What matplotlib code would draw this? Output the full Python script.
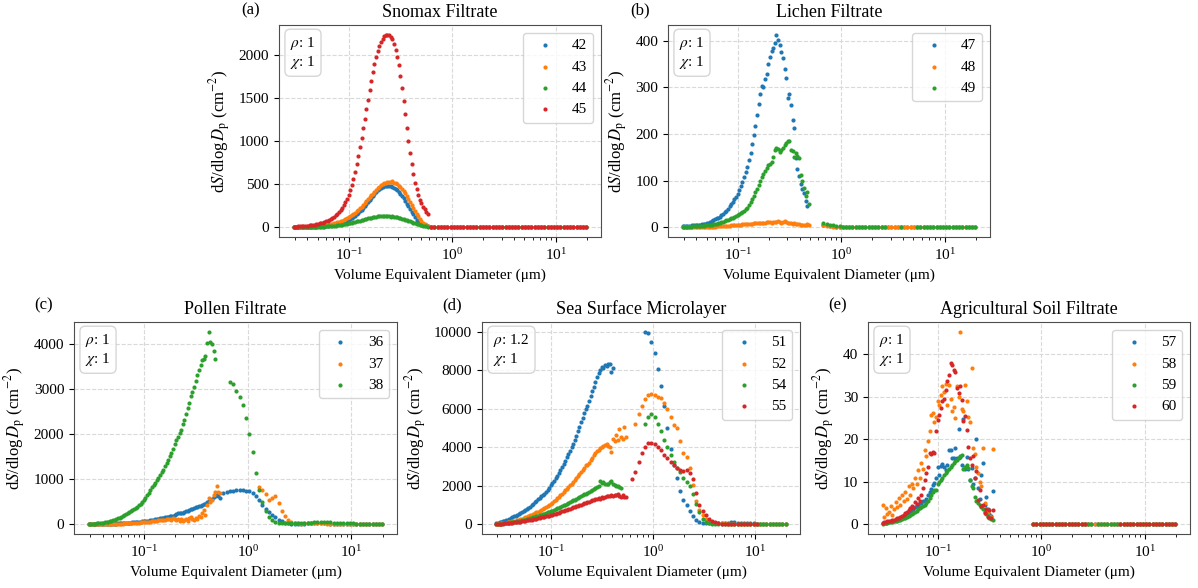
import numpy as np
import matplotlib
matplotlib.use("Agg")
import matplotlib.pyplot as plt

nan = np.nan

# === Instrument channel diameters (um) ===
smps_d = [0.02940, 0.03048, 0.03159, 0.03275, 0.03395, 0.03519, 0.03648, 0.03782, 0.03920, 0.04064,
          0.04213, 0.04368, 0.04528, 0.04693, 0.04865, 0.05043, 0.05229, 0.05419, 0.05618, 0.05824,
          0.06037, 0.06258, 0.06487, 0.06725, 0.06972, 0.07227, 0.07492, 0.07766, 0.08051, 0.08346,
          0.08651, 0.08968, 0.09297, 0.09638, 0.09991, 0.1036, 0.1074, 0.1113, 0.1154, 0.1196,
          0.1240, 0.1285, 0.1332, 0.1381, 0.1432, 0.1484, 0.1539, 0.1595, 0.1653, 0.1714,
          0.1777, 0.1842, 0.1909, 0.1979, 0.2052, 0.2127, 0.2205, 0.2285, 0.2369, 0.2456,
          0.2546, 0.2639, 0.2736, 0.2836, 0.2940, 0.3048, 0.3159, 0.3275, 0.3395, 0.3519,
          0.3648, 0.3782, 0.3920, 0.4064, 0.4213, 0.4368, 0.4528, 0.4693, 0.4865, 0.5043,
          0.5229, 0.5419, 0.5618, 0.5824, 0.6037]
aps_d = [0.542, 0.583, 0.626, 0.673, 0.723, 0.777, 0.835, 0.898, 0.965, 1.037,
         1.114, 1.197, 1.286, 1.382, 1.486, 1.596, 1.715, 1.843, 1.981, 2.129,
         2.288, 2.458, 2.642, 2.839, 3.051, 3.278, 3.523, 3.786, 4.068, 4.371,
         4.698, 5.048, 5.425, 5.829, 6.264, 6.732, 7.234, 7.774, 8.354, 8.977,
         9.647, 10.37, 11.14, 11.97, 12.86, 13.82, 14.86, 15.96, 17.15, 18.43,
         19.81]

# === (a) Snomax Filtrate ===
snomax_42 = [2, 2, 3, 3, 3, 4, 4, 5, 5, 6,
             6, 7, 8, 9, 10, 11, 12, 14, 15, 17,
             19, 21, 23, 26, 29, 32, 36, 40, 45, 50,
             56, 62, 69, 77, 86, 96, 108, 120, 134, 150,
             166, 184, 203, 224, 246, 268, 292, 316, 340, 364,
             388, 410, 428, 445, 458, 468, 476, 480, 482, 481,
             478, 472, 462, 450, 434, 414, 392, 366, 338, 308,
             276, 244, 212, 180, 150, 122, 85, 68, 55, 44,
             35, 28, 22, 18]
snomax_43 = [3, 3, 4, 4, 5, 5, 6, 6, 7, 8,
             9, 10, 11, 12, 14, 15, 17, 19, 21, 24,
             27, 30, 33, 37, 41, 46, 51, 57, 63, 70,
             78, 86, 95, 105, 116, 128, 141, 155, 170, 186,
             203, 221, 240, 260, 281, 303, 325, 348, 370, 392,
             414, 435, 455, 472, 488, 500, 510, 520, 528, 530,
             525, 535, 520, 510, 500, 485, 470, 450, 420, 395,
             360, 330, 290, 260, 225, 190, 160, 130, 100, 75,
             55, 38, 25, 15]
snomax_44 = [1, 1, 1, 2, 2, 2, 2, 3, 3, 3,
             4, 4, 5, 5, 6, 7, 7, 8, 9, 10,
             11, 12, 14, 15, 17, 19, 21, 23, 26, 28,
             31, 34, 37, 41, 45, 49, 53, 58, 63, 68,
             73, 78, 84, 89, 95, 100, 105, 110, 114, 118,
             122, 125, 127, 129, 131, 132, 130, 128, 133, 126,
             124, 128, 120, 122, 118, 112, 108, 100, 95, 88,
             82, 75, 68, 60, 53, 46, 40, 34, 28, 23,
             19, 15, 12, 10]
snomax_45 = [8, 9, 10, 11, 12, 14, 15, 17, 19, 21,
             23, 26, 29, 32, 36, 40, 45, 50, 56, 62,
             70, 78, 88, 98, 110, 124, 140, 158, 178, 200,
             225, 255, 290, 330, 375, 430, 490, 560, 640, 730,
             830, 930, 1040, 1150, 1260, 1370, 1480, 1590, 1700, 1800,
             1890, 1970, 2040, 2100, 2150, 2190, 2215, 2230, 2225, 2235,
             2210, 2180, 2130, 2060, 1980, 1880, 1760, 1620, 1470, 1310,
             1150, 1000, 860, 730, 620, 520, 440, 370, 320, 280,
             240, 210, 180, 150]
snomax_42_aps = [3.2, 2.6, 2.1, 1.7, 1.4, 1.1, 0.9, 0.8, 0.6, 0.5,
                 0.5, 0.4, 0.4, 0.3, 0.3, 0.3, 0.2, 0.2, 0.2, 0.2,
                 0.1, 0.1, 0.1, 0.1, 0.1, 0.1, 0.1, 0.1, 0.1, 0.1,
                 0, 0, 0, 0, 0, 0, 0, 0, 0, 0,
                 0, 0, 0, 0, 0, 0, 0, 0, 0]
snomax_43_aps = [3.5, 2.8, 2.2, 1.8, 1.4, 1.2, 1.0, 0.8, 0.7, 0.6,
                 0.5, 0.4, 0.4, 0.3, 0.3, 0.3, 0.2, 0.2, 0.2, 0.2,
                 0.1, 0.1, 0.1, 0.1, 0.1, 0.1, 0.1, 0.1, 0.1, 0.1,
                 0, 0, 0, 0, 0, 0, 0, 0, 0, 0,
                 0, 0, 0, 0, 0, 0, 0, 0, 0]
snomax_44_aps = [1.0, 0.8, 0.7, 0.5, 0.4, 0.4, 0.3, 0.3, 0.2, 0.2,
                 0.2, 0.1, 0.1, 0.1, 0.1, 0.1, 0.1, 0.1, 0.1, 0.1,
                 0, 0, 0, 0, 0, 0, 0, 0, 0, 0,
                 0, 0, 0, 0, 0, 0, 0, 0, 0, 0,
                 0, 0, 0, 0, 0, 0, 0, 0, 0]
snomax_45_aps = [6.0, 4.8, 3.8, 3.0, 2.4, 1.9, 1.5, 1.2, 1.0, 0.8,
                 0.7, 0.6, 0.5, 0.4, 0.4, 0.3, 0.3, 0.2, 0.2, 0.2,
                 0.2, 0.1, 0.1, 0.1, 0.1, 0.1, 0.1, 0.1, 0.1, 0.1,
                 0.1, 0.1, 0, 0, 0, 0, 0, 0, 0, 0,
                 0, 0, 0, 0, 0, 0, 0, 0, 0]

# === (b) Lichen Filtrate ===
lichen_47 = [2, 2, 2, 3, 3, 3, 4, 4, 5, 5,
             6, 6, 7, 8, 8, 9, 10, 11, 13, 15,
             17, 19, 21, 23, 26, 29, 32, 36, 40, 45,
             50, 55, 60, 66, 72, 80, 88, 97, 107, 118,
             130, 145, 160, 178, 197, 217, 240, 264, 285, 303,
             300, 318, 328, 350, 365, 378, 385, 395, 413, 402,
             390, 375, 362, 340, 321, 278, 285, 263, 230, 213,
             149, 125, 110, 92, 82, 74, 56, 45]
lichen_48 = [0.2, 0.2, 0.3, 0.3, 0.3, 0.4, 0.4, 0.5, 0.5, 0.6,
             0.7, 0.8, 0.8, 0.9, 1.0, 1.1, 1.2, 1.4, 1.5, 1.6,
             1.8, 2.0, 2.2, 2.4, 2.6, 2.9, 3.1, 3.4, 3.6, 3.9,
             4.2, 4.5, 4.8, 5.1, 5.4, 5.7, 6.0, 6.3, 6.7, 7.0,
             7.3, 7.6, 7.9, 8.2, 8.5, 8.8, 9.1, 9.0, 9.6, 9.8,
             10.2, 9.8, 10.5, 10.8, 11.0, 10.4, 11.5, 12.5, 11.0, 13.0,
             11.5, 10.2, 12.5, 14.0, 11.0, 9.0, 8.5, 10.0, 8.0, 9.5,
             8.0, 7.5, 7.0, 6.0, 5.0, 4.5, 4.0, 6.5, 5.0]
lichen_49 = [1, 1, 1, 1, 1, 1, 2, 2, 2, 2,
             2, 3, 3, 3, 4, 4, 5, 5, 6, 7,
             7, 8, 9, 10, 11, 12, 13, 15, 16, 18,
             19, 21, 22, 24, 26, 28, 30, 33, 36, 39,
             42, 48, 54, 61, 68, 75, 83, 91, 99, 107,
             115, 120, 128, 133, 135, 140, 150, 165, 170, 168,
             162, 166, 170, 176, 180, 184, 186, 165, 163, 150,
             160, 152, 148, 112, 100, 85, 68, 76, 50]
lichen_47_aps = [6.0, 4.0, 3.0, 2.0, 1.5, 1.0, 0.8, 0.6, 0.5, 0.4,
                 0.3, 0.3, 0.2, 0.2, 0.2, 0.1, 0.1, 0.1, 0.1, 0.1,
                 0, 0, 0, 0, 0, 0, 0, 0, 0, 0,
                 0, 0, 0, 0, 0, 0, 0, 0, 0, 0,
                 0, 0, 0, 0, 0, 0, 0, 0]
lichen_48_aps = [4.0, 3.0, 2.0, 1.5, 1.0, 0.7, 0.5, 0.4, 0.3, 0.2,
                 0.2, 0.2, 0.1, 0.1, 0.1, 0.1, 0.1, 0.1, 0.1, 0.1,
                 0.1, 0.1, 0.1, 0.1, 0.1, 0.1, 0.1, 0.1, 0.1, 0.1,
                 0, 0, 0, 0, 0, 0, 0, 0, 0, 0,
                 0, 0, 0, 0, 0, 0, 0, 0]
lichen_49_aps = [10.0, 8.0, 6.0, 4.5, 3.2, 2.3, 1.6, 1.2, 0.9, 0.7,
                 0.5, 0.4, 0.3, 0.3, 0.2, 0.2, 0.1, 0.1, 0.1, 0.1,
                 nan, nan, nan, nan, 0.1, nan, nan, nan, nan, 0.1,
                 0.1, 0.1, 0.1, 0, 0, 0, 0, 0, 0, 0,
                 0, 0, 0, 0, 0, 0, 0, 0]

# === (c) Pollen Filtrate ===
pollen_36 = [5, 5, 6, 6, 7, 7, 8, 9, 9, 10,
             11, 12, 13, 14, 15, 16, 18, 19, 21, 23,
             25, 27, 29, 31, 34, 37, 40, 43, 46, 50,
             54, 58, 62, 66, 70, 75, 80, 86, 92, 98,
             105, 112, 120, 128, 136, 145, 150, 160, 165, 170,
             178, 185, 195, 210, 230, 250, 245, 260, 255, 270,
             290, 305, 320, 335, 345, 360, 380, 390, 400, 410,
             430, 450, 460, 490, 520, 540, 560, 600, 630, 650,
             640, 580]
pollen_37 = [3, 3, 4, 4, 4, 5, 5, 6, 6, 7,
             7, 8, 9, 9, 10, 11, 12, 13, 14, 15,
             17, 18, 20, 21, 23, 25, 27, 29, 31, 34,
             36, 39, 42, 45, 48, 52, 55, 59, 63, 68,
             72, 77, 82, 88, 93, 99, 105, 95, 110, 118,
             125, 100, 140, 120, 95, 110, 85, 130, 70, 100,
             110, 80, 150, 170, 120, 96, 140, 110, 190, 170,
             245, 320, 210, 420, 580, 500, 540, 650, 720, 860,
             725, 690]
pollen_38 = [10, 12, 14, 16, 19, 22, 25, 29, 33, 38,
             44, 52, 60, 70, 80, 92, 105, 118, 132, 150,
             168, 185, 205, 225, 248, 270, 290, 315, 345, 370,
             390, 425, 460, 500, 540, 590, 650, 705, 760, 820,
             870, 930, 985, 1040, 1100, 1160, 1210, 1290, 1360, 1430,
             1510, 1580, 1680, 1780, 1875, 1950, 2030, 2100, 2220, 2320,
             2450, 2580, 2700, 2840, 2950, 3060, 3190, 3320, 3430, 3540,
             3660, 3680, 3730, 4020, 4280, 4040, 4000, 3850, 3680]
pollen_36_aps = [700, 720, 740, 750, 755, 755, 755, 750, 740, 700,
                 620, 540, 440, 350, 280, 210, 160, 100, 70, 40,
                 22, 15, 12, 14, 16, 18, 20, 22, 24, 25,
                 24, 22, 20, 18, 16, 14, 12, 10, 8, 7,
                 6, 5, 4, 3, 2, 2, 1, 1, 1, 0.5]
pollen_37_aps = [840, 760, 670, 540, 580, 620, 470, 300, 180, 100,
                 55, 30, 20, 18, 20, 22, 24, 25, 24, 22,
                 20, 18, 16, 14, 12, 10, 8, 7, 6, 5,
                 4, 3, 2, 2, 1, 1, 0.5, 0.5, 0.5]
pollen_38_aps = [3170, 3110, 2960, 2830, 2650, 2360, 2010, 1600, 1150, 760,
                 500, 300, 160, 90, 50, 30, 22, 20, 22, 25,
                 28, 30, 33, 35, 38, 40, 42, 43, 44, 44,
                 43, 42, 40, 38, 35, 32, 28, 24, 20, 16,
                 12, 9, 7, 5, 3, 2, 1, 1]

# === (d) Sea Surface Microlayer ===
ssml_51 = [60, 80, 100, 125, 150, 180, 210, 245, 290, 335,
           380, 420, 460, 505, 550, 600, 650, 705, 760, 805,
           850, 920, 990, 1060, 1140, 1220, 1300, 1390, 1470, 1540,
           1600, 1700, 1800, 1910, 2020, 2140, 2260, 2390, 2530, 2680,
           2830, 2980, 3140, 3300, 3470, 3640, 3820, 4000, 4190, 4390,
           4600, 4820, 5050, 5290, 5540, 5800, 6000, 6150, 6400, 6650,
           6900, 7150, 7400, 7650, 7850, 8000, 8150, 8100, 8250, 8200,
           8300, 8330, 7900, 8100]
ssml_52 = [20, 30, 40, 50, 60, 75, 90, 105, 120, 140,
           160, 180, 200, 220, 245, 270, 300, 330, 360, 395,
           430, 465, 500, 540, 580, 620, 665, 710, 760, 810,
           860, 910, 960, 1010, 1070, 1130, 1200, 1270, 1350, 1430,
           1510, 1590, 1670, 1760, 1850, 1940, 2030, 2120, 2210, 2310,
           2410, 2510, 2610, 2720, 2830, 2950, 3070, 3060, 3200, 3330,
           3450, 3580, 3700, 3800, 3850, 3950, 4000, 4080, 4120, 4190,
           4050, 4000, 3760, 4450, 4300, 4620, 4360, 4960, 4530, 4450,
           5070, 4550]
ssml_54 = [25, 30, 36, 43, 50, 58, 67, 77, 88, 100,
           112, 125, 140, 155, 170, 187, 205, 224, 244, 265,
           287, 310, 335, 360, 386, 413, 441, 470, 500, 530,
           560, 590, 620, 650, 680, 715, 750, 790, 830, 870,
           910, 950, 990, 1030, 1075, 1120, 1165, 1210, 1250, 1290,
           1330, 1370, 1410, 1450, 1500, 1550, 1600, 1650, 1700, 1750,
           1800, 1840, 1880, 1930, 2000, 2250, 2150, 2200, 2100, 2080,
           2120, 2180, 2250, 2100, 2050, 2000, 1980, 1940, 1900]
ssml_55 = [20, 25, 30, 35, 40, 47, 54, 62, 70, 80,
           90, 100, 110, 122, 135, 148, 162, 176, 190, 205,
           220, 236, 252, 268, 285, 302, 320, 340, 360, 380,
           400, 420, 440, 460, 480, 505, 530, 555, 580, 610,
           640, 670, 700, 730, 760, 790, 820, 850, 880, 910,
           940, 970, 1000, 1030, 1060, 1090, 1120, 1150, 1180, 1210,
           1260, 1240, 1300, 1320, 1350, 1330, 1400, 1380, 1420, 1460,
           1450, 1480, 1500, 1470, 1530, 1510, 1600, 1480, 1430, 1510,
           1430, 1440]
ssml_51_aps = [10000, 9950, 9480, 8870, 8040, 7200, 6120, 5000, 3920, 3080,
               2420, 1740, 1250, 990, 680, 420, 230, 120, 70, 50,
               45, 50, 60, 70, 80, 90, 95, 100, 100, 95,
               90, 85, 75, 65, 50, 35, 20, 10, 5, 2,
               1, 0.5, 0.5, 0.3, 0.3]
ssml_52_aps = [5220, 5740, 6120, 6520, 6730, 6770, 6730, 6610, 6560, 6300,
               5990, 5550, 5170, 4990, 4330, 3720, 3510, 2900, 2040, 1200,
               730, 470, 300, 180, 110, 80, 60, 50, 45, 40,
               35, 30, 25, 20, 15, 10, 7, 5, 3, 2,
               1, 1, 0.5, 0.5, 0.3, 0.3, 0.2, 0.2]
ssml_54_aps = [5200, 5570, 5720, 5570, 5200, 4870, 4380, 4040, 3600, 3250,
               2950, 2730, 2420, 2210, 1980, 1600, 1080, 640, 300, 120,
               50, 30, 20, 15, 10, 8, 6, 5, 4, 3,
               2, 2, 1, 1, 1, 0.5, 0.5, 0.5, 0.3, 0.3,
               0.2, 0.2, 0.1, 0.1, 0.1]
ssml_55_aps = [2350, 2730, 3250, 3690, 4040, 4210, 4210, 4180, 4040, 3860,
               3600, 3430, 3250, 3080, 2900, 2820, 2780, 2820, 2640, 2330,
               1650, 1030, 680, 470, 300, 180, 100, 60, 40, 30,
               25, 20, 15, 12, 10, 8, 6, 5, 4, 3]

# === (e) Agricultural Soil Filtrate ===
soil_57 = [0.3, 0.4, 0.4, 0.5, 0.6, 0.7, 0.8, 0.9, 1.0, 1.2,
           1.3, 1.5, 1.7, 1.9, 2.1, 2.4, 2.7, 3.0, 3.3, 3.7,
           4.0, 4.3, 4.6, 5.0, 5.1, 5.4, 5.5, 6.0, 6.9, 7.5,
           8.3, 9.3, 9.8, 10.8, 13.6, 11.5, 13.8, 14.2, 13.6, 12.8,
           14.0, 17.5, 17.5, 15.5, 15.5, 17.9, 15.6, 22.5, 15.9, 14.0,
           24.8, 13.0, 15.8, 13.0, 10.4, 13.2, 9.5, 11.0, 20.0, 8.5,
           6.0, 11.5, 14.4, 4.5, 6.5, 3.5, 2.5, 2.0, 7.9]
soil_58 = [4.5, 1.8, 3.8, 2.5, 3.0, 4.2, 2.2, 3.5, 5.3, 4.0,
           6.1, 4.5, 6.9, 5.5, 7.7, 6.0, 9.1, 7.0, 9.6, 8.5,
           10.8, 9.5, 12.8, 11.0, 14.4, 13.0, 17.5, 16.0, 19.5, 22.0,
           25.8, 26.1, 24.0, 25.3, 28.9, 28.0, 30.4, 32.5, 31.2, 33.0,
           28.0, 32.8, 29.5, 26.6, 27.7, 25.0, 32.5, 30.0, 45.3, 27.0,
           26.6, 32.8, 29.0, 25.3, 24.0, 36.8, 18.0, 16.5, 13.6, 12.0,
           10.0, 9.0, 17.9, 5.0, 3.5, 3.0, 2.0, 1.8, 17.7]
soil_59 = [0.2, 0.3, 0.3, 0.4, 0.5, 0.5, 0.6, 0.7, 0.8, 0.9,
           1.0, 1.1, 1.2, 1.4, 1.5, 1.7, 1.9, 2.1, 2.4, 2.6,
           2.9, 3.2, 3.5, 3.8, 4.0, 4.2, 4.5, 5.0, 5.6, 6.3,
           7.0, 7.5, 8.0, 8.0, 9.5, 10.0, 10.5, 11.0, 11.5, 12.0,
           12.5, 13.0, 13.5, 14.0, 14.5, 15.0, 15.2, 15.5, 16.0, 16.4,
           13.0, 13.5, 14.0, 13.2, 10.5, 9.0, 8.5, 6.5, 5.5, 5.0,
           4.5, 4.0, 3.5, 3.0, 2.5, 2.0, 1.5, 1.2, 1.0]
soil_60 = [0.4, 0.5, 0.6, 0.7, 0.8, 0.9, 1.0, 1.1, 1.3, 1.4,
           1.6, 1.8, 2.0, 2.3, 2.6, 3.0, 3.4, 3.8, 4.3, 3.9,
           5.3, 4.8, 6.1, 5.5, 7.0, 8.5, 10.4, 12.0, 13.6, 16.7,
           16.5, 17.0, 16.7, 22.0, 24.5, 25.8, 27.3, 28.9, 29.5, 31.6,
           33.6, 35.1, 37.9, 37.5, 36.3, 35.7, 32.0, 30.8, 32.5, 29.3,
           24.2, 25.5, 22.2, 18.3, 15.5, 14.0, 16.0, 10.8, 12.5, 5.7,
           8.0, 4.2, 4.5, 2.6, 3.5, 1.8, 3.4, 1.4, 3.4]
soil_57_aps = [0.2, 0.2, 0.1, 0.1, 0.1, 0.1, 0.1, 0.1, 0.1, 0.1,
               0, 0, 0, 0, 0, 0, 0, 0, 0, 0,
               0, 0, 0, 0, 0, 0, 0, 0, 0, 0,
               0, 0, 0, 0, 0, 0, 0, 0, 0, 0,
               0, 0, 0, 0, 0]
soil_58_aps = [0.1, 0.1, 0.1, 0.1, 0.1, 0.1, 0.1, 0.1, 0.1, 0.1,
               0, 0, 0, 0, 0, 0, 0, 0, 0, 0,
               0, 0, 0, 0, 0, 0, 0, 0, 0, 0,
               0, 0, 0, 0, 0, 0, 0, 0, 0, 0,
               0, 0, 0, 0, 0]
soil_59_aps = [0.2, 0.2, 0.2, 0.1, 0.1, 0.1, 0.1, 0.1, 0.1, 0.1,
               0.1, 0.1, 0.1, 0.1, 0.1, 0.1, 0.1, 0.1, 0.1, nan,
               0, 0, 0, 0, 0, 0, 0, 0, 0, 0,
               0, 0, 0, 0, 0, 0, 0, 0, 0, 0,
               0, 0, 0, 0, 0]
soil_60_aps = [0.2, 0.2, 0.1, 0.1, 0.1, 0.1, 0.1, 0.1, 0.1, 0.1,
               0.1, 0.1, 0.1, 0.1, 0.1, 0.1, 0.1, nan, nan, nan,
               nan, nan, nan, nan, nan, nan, nan, 0, 0, 0,
               0, 0, 0, 0, 0, 0, 0, 0, 0, 0,
               0, 0, 0, 0, 0]

# label, SMPS values, first APS channel index, APS values
panels = [
    dict(tag="(a)", title="Snomax Filtrate", rho="1", box=(279, 25, 601, 237), tagxy=(251, 10),
         series=[("42", snomax_42, 2, snomax_42_aps), ("43", snomax_43, 2, snomax_43_aps),
                 ("44", snomax_44, 2, snomax_44_aps), ("45", snomax_45, 2, snomax_45_aps)]),
    dict(tag="(b)", title="Lichen Filtrate", rho="1", box=(668, 25, 990, 237), tagxy=(640, 10),
         series=[("47", lichen_47, 3, lichen_47_aps), ("48", lichen_48, 3, lichen_48_aps),
                 ("49", lichen_49, 3, lichen_49_aps)]),
    dict(tag="(c)", title="Pollen Filtrate", rho="1", box=(74, 322, 397, 534), tagxy=(44, 305),
         series=[("36", pollen_36, 1, pollen_36_aps), ("37", pollen_37, 12, pollen_37_aps),
                 ("38", pollen_38, 3, pollen_38_aps)]),
    dict(tag="(d)", title="Sea Surface Microlayer", rho="1.2", box=(482, 322, 800, 534), tagxy=(452, 305),
         series=[("51", ssml_51, 6, ssml_51_aps), ("52", ssml_52, 3, ssml_52_aps),
                 ("54", ssml_54, 6, ssml_54_aps), ("55", ssml_55, 2, ssml_55_aps)]),
    dict(tag="(e)", title="Agricultural Soil Filtrate", rho="1", box=(868, 322, 1190, 534), tagxy=(838, 305),
         series=[("57", soil_57, 6, soil_57_aps), ("58", soil_58, 6, soil_58_aps),
                 ("59", soil_59, 6, soil_59_aps), ("60", soil_60, 6, soil_60_aps)]),
]

plt.rcParams['font.family'] = 'serif'
plt.rcParams['font.serif'] = ['Liberation Serif', 'DejaVu Serif']
plt.rcParams['mathtext.fontset'] = 'stix'
plt.rcParams['font.size'] = 11

W, H = 1198, 588
fig = plt.figure(figsize=(W / 100, H / 100), dpi=100)

for p in panels:
    l, t, r, b = p["box"]
    ax = fig.add_axes([l / W, 1 - b / H, (r - l) / W, (b - t) / H])
    for i, (lab, smps, start, aps) in enumerate(p["series"]):
        x = smps_d[:len(smps)] + aps_d[start:start + len(aps)]
        y = list(smps) + list(aps)
        ax.scatter(x, y, s=9, color=f"C{i}", linewidths=0, label=lab, zorder=3)
    ax.set_xscale("log")
    ax.set_title(p["title"], fontsize=13)
    ax.set_xlabel("Volume Equivalent Diameter (μm)")
    ax.set_ylabel(r"d$S$/dlog$\,D_\mathrm{p}$ (cm$^{-2}$)", fontsize=12)
    ax.grid(True, which="major", ls="--", color="0.85", lw=0.8)
    for s in ax.spines.values():
        s.set_color("0.3")
    ax.legend(loc="upper right", fontsize=11)
    ax.text(0.035, 0.955, r"$\rho$: " + p["rho"] + "\n" + r"$\chi$: 1", transform=ax.transAxes,
            ha="left", va="top", zorder=5,
            bbox=dict(boxstyle="round,pad=0.35", fc="white", ec="0.8", alpha=0.8))
    fig.text(p["tagxy"][0] / W, 1 - p["tagxy"][1] / H, p["tag"], ha="center", va="center", fontsize=12)

fig.savefig("out.png", dpi=100)
